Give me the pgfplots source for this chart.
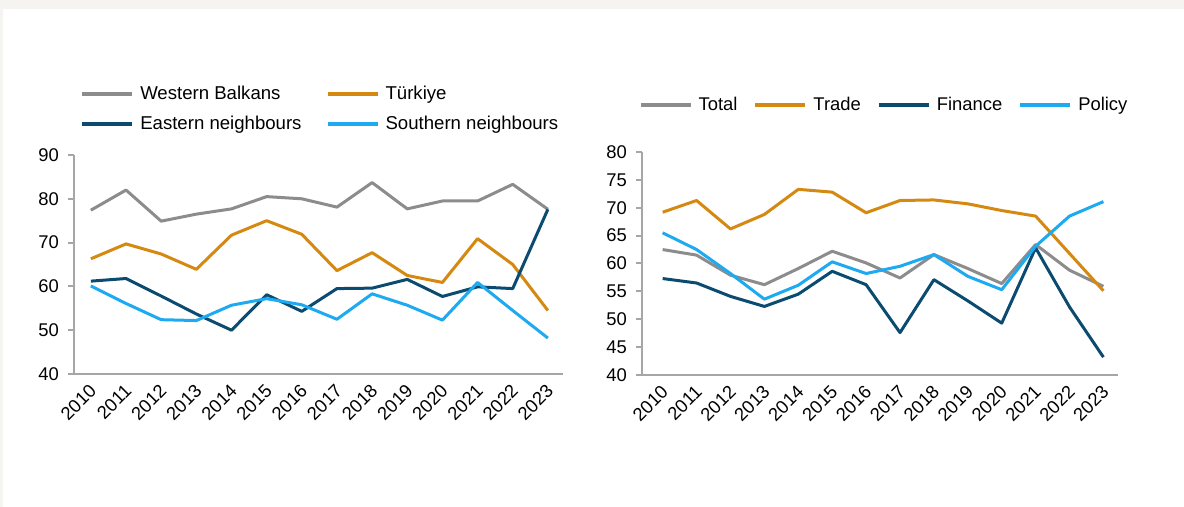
\documentclass[border=0pt]{standalone}
\usepackage{pgfplots}
\pgfplotsset{compat=1.18}
\usepackage{fontspec}
\setmainfont{Liberation Sans}
\definecolor{cgray}{HTML}{8C8C8F}
\definecolor{corange}{HTML}{D68910}
\definecolor{cnavy}{HTML}{0B4B70}
\definecolor{clblue}{HTML}{1EAAF1}
\definecolor{caxis}{HTML}{A6A6A6}
\definecolor{cbg}{HTML}{F5F4F0}
\pgfplotsset{
  myaxis/.style={
    scale only axis,
    axis x line*=bottom, axis y line*=left,
    axis line style={-, draw=caxis, line width=1pt},
    tick align=outside,
    major tick length=3pt,
    ytick style={draw=caxis, line width=1pt},
    xtick style={draw=none},
    xtick={2010,...,2023},
    tick label style={font=\fontsize{9.2}{10}\selectfont},
    /pgf/number format/assume math mode=true,
    /pgf/number format/1000 sep={},
    xticklabel style={rotate=45, anchor=east, yshift=-3.5pt, xshift=1.5pt},
    yticklabel style={xshift=-1pt},
    legend cell align=left,
    legend image code/.code={\draw[##1, line width=2pt] (0pt,0pt) -- (25pt,0pt);},
    every axis plot/.append style={line width=1.5pt, line join=round, mark=none},
  }
}
\begin{document}
\begin{tikzpicture}[x=1pt,y=1pt]
\path[use as bounding box] (0,0) rectangle (592,-253.5);
\fill[cbg] (0,0) rectangle (592,-253.5);
\fill[white] (1.5,-4.5) rectangle (592,-253.5);
% Left chart
\begin{axis}[myaxis,
  at={(37pt,-187pt)}, anchor=south west,
  width=244.5pt, height=109.5pt,
  xmin=2009.52, xmax=2023.43, ymin=40, ymax=90, ytick={40,50,...,90},
  legend columns=2,
  legend style={at={(0.012,1.21)}, anchor=west, draw=none, fill=none, inner sep=0pt,
    font=\fontsize{9.3}{10}\selectfont, nodes={inner sep=1pt}, row sep=4.8pt,
    /tikz/every odd column/.append style={column sep=2pt},
    /tikz/every even column/.append style={column sep=11pt}},
]
\addplot[cgray] coordinates {(2010,77.4)(2011,82.0)(2012,74.9)(2013,76.5)(2014,77.7)(2015,80.5)(2016,80.0)(2017,78.1)(2018,83.7)(2019,77.7)(2020,79.5)(2021,79.5)(2022,83.3)(2023,77.6)};
\addlegendentry{Western Balkans}
\addplot[corange] coordinates {(2010,66.3)(2011,69.7)(2012,67.4)(2013,63.9)(2014,71.7)(2015,75.0)(2016,71.9)(2017,63.6)(2018,67.7)(2019,62.5)(2020,60.9)(2021,70.9)(2022,65.0)(2023,54.5)};
\addlegendentry{Türkiye}
\addplot[cnavy] coordinates {(2010,61.2)(2011,61.8)(2012,57.8)(2013,53.7)(2014,50.0)(2015,58.1)(2016,54.3)(2017,59.5)(2018,59.6)(2019,61.6)(2020,57.7)(2021,59.9)(2022,59.5)(2023,77.6)};
\addlegendentry{Eastern neighbours}
\addplot[clblue] coordinates {(2010,60.1)(2011,56.1)(2012,52.4)(2013,52.2)(2014,55.7)(2015,57.2)(2016,55.8)(2017,52.5)(2018,58.3)(2019,55.7)(2020,52.3)(2021,60.9)(2022,54.5)(2023,48.2)};
\addlegendentry{Southern neighbours}
\end{axis}
% Right chart
\begin{axis}[myaxis,
  at={(321pt,-187.5pt)}, anchor=south west,
  width=238pt, height=111.5pt,
  xmin=2009.39, xmax=2023.43, ymin=40, ymax=80, ytick={40,45,...,80},
  legend columns=4,
  legend style={at={(-0.008,1.211)}, anchor=west, draw=none, fill=none, inner sep=0pt,
    font=\fontsize{9.2}{10}\selectfont, nodes={inner sep=1pt},
    /tikz/every odd column/.append style={column sep=2pt},
    /tikz/every even column/.append style={column sep=7pt}},
]
\addplot[cgray] coordinates {(2010,62.5)(2011,61.5)(2012,57.9)(2013,56.2)(2014,59.1)(2015,62.2)(2016,60.1)(2017,57.4)(2018,61.6)(2019,59.1)(2020,56.4)(2021,63.4)(2022,58.8)(2023,55.9)};
\addlegendentry{Total}
\addplot[corange] coordinates {(2010,69.2)(2011,71.3)(2012,66.2)(2013,68.8)(2014,73.3)(2015,72.8)(2016,69.1)(2017,71.3)(2018,71.4)(2019,70.7)(2020,69.5)(2021,68.5)(2022,61.8)(2023,55.1)};
\addlegendentry{Trade}
\addplot[cnavy] coordinates {(2010,57.3)(2011,56.5)(2012,54.1)(2013,52.3)(2014,54.5)(2015,58.6)(2016,56.2)(2017,47.6)(2018,57.1)(2019,53.3)(2020,49.3)(2021,62.8)(2022,52.2)(2023,43.2)};
\addlegendentry{Finance}
\addplot[clblue] coordinates {(2010,65.5)(2011,62.5)(2012,58.2)(2013,53.6)(2014,56.1)(2015,60.3)(2016,58.2)(2017,59.5)(2018,61.6)(2019,57.7)(2020,55.3)(2021,63.1)(2022,68.5)(2023,71.1)};
\addlegendentry{Policy}
\end{axis}
\end{tikzpicture}
\end{document}
